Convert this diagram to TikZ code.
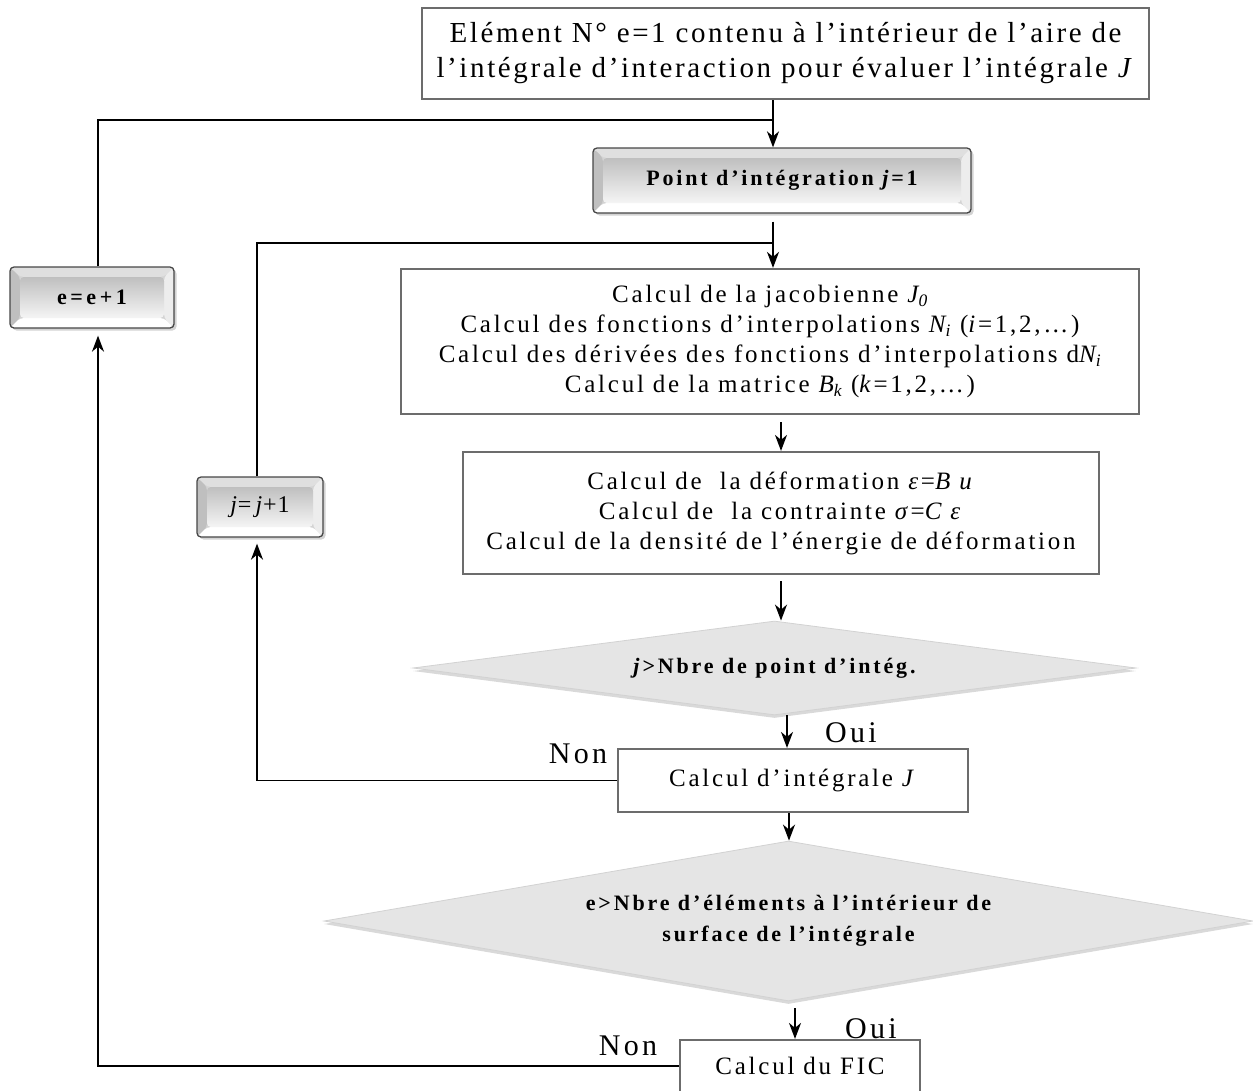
\documentclass[tikz,border=0pt]{standalone}
\usepackage{fontspec}
\setmainfont{Liberation Serif}
\usetikzlibrary{arrows.meta,shapes.geometric,shadows}

\tikzset{
  conn/.style={line width=1.9pt, black},
  arr/.style={conn, -{Stealth[length=16pt,width=12pt,inset=5pt]}},
  plainbox/.style={rectangle, draw=gray!85!black, line width=2.2pt, fill=white,
    inner sep=0pt, align=center},
  bevelbox/.style={rectangle, rounded corners=4pt, draw=gray!55!black, line width=1.3pt,
    inner sep=0pt, align=center,
    drop shadow={shadow xshift=2.5pt, shadow yshift=-2.5pt, opacity=0.35, fill=gray},
    path picture={
      \path (path picture bounding box.north west) coordinate (bvA)
            (path picture bounding box.north east) coordinate (bvB)
            (path picture bounding box.south east) coordinate (bvC)
            (path picture bounding box.south west) coordinate (bvD);
      \fill[gray!25] (bvA) -- (bvB) -- ([shift={(-10pt,-10pt)}]bvB) -- ([shift={(10pt,-10pt)}]bvA) -- cycle;
      \fill[gray!50] (bvA) -- ([shift={(10pt,-10pt)}]bvA) -- ([shift={(10pt,10pt)}]bvD) -- (bvD) -- cycle;
      \fill[gray!14] (bvB) -- ([shift={(-10pt,-10pt)}]bvB) -- ([shift={(-10pt,10pt)}]bvC) -- (bvC) -- cycle;
      \fill[white] (bvD) -- ([shift={(10pt,10pt)}]bvD) -- ([shift={(-10pt,10pt)}]bvC) -- (bvC) -- cycle;
      \shade[top color=gray!50, bottom color=gray!8]
        ([shift={(10pt,-10pt)}]bvA) rectangle ([shift={(-10pt,10pt)}]bvC);
    }},
  decision/.style={diamond, fill=gray!20, draw=gray!35, line width=0.8pt, inner sep=0pt,
    align=center,
    drop shadow={shadow xshift=0pt, shadow yshift=-3pt, opacity=0.3, fill=gray}},
  lbl/.style={font=\fontsize{30}{32}\selectfont\addfontfeature{LetterSpace=11}, inner sep=0pt},
  toptxt/.style={font=\fontsize{29}{35}\selectfont\addfontfeature{LetterSpace=9}},
  bodytxt/.style={font=\fontsize{25}{30}\selectfont\addfontfeature{LetterSpace=11}},
  boldtxt/.style={font=\fontsize{22}{31}\selectfont\bfseries\addfontfeature{LetterSpace=13}},
  widebold/.style={font=\fontsize{22}{31}\selectfont\bfseries\addfontfeature{LetterSpace=16}},
}

\begin{document}
\begin{tikzpicture}[x=1pt, y=-1pt]
\useasboundingbox (0,0) rectangle (1253,1090);

% process boxes
\node[plainbox, toptxt, minimum width=727pt, minimum height=91pt] (top) at (785.5,53.5)
  {Elément N° e=1 contenu à l’intérieur de l’aire de\\
   l’intégrale d’interaction pour évaluer l’intégrale \textit{J}};

\node[bevelbox, boldtxt, minimum width=378pt, minimum height=65pt] (point) at (782,180.5)
  {Point d’intégration \textit{j}=1};

\node[plainbox, bodytxt, minimum width=738pt, minimum height=145pt] (calc1) at (770,341.5)
  {Calcul de la jacobienne \textit{J\textsubscript{0}}\\
   Calcul des fonctions d’interpolations \textit{N\textsubscript{i}} (\textit{i}=1,2,…)\\
   Calcul des dérivées des fonctions d’interpolations d\textit{N\textsubscript{i}}\\
   Calcul de la matrice \textit{B\textsubscript{k}} (\textit{k}=1,2,…)};

\node[plainbox, bodytxt, minimum width=636pt, minimum height=122pt] (calc2) at (781,513)
  {Calcul de \ la déformation \textit{ε}=\textit{B u}\\
   Calcul de \ la contrainte \textit{σ}=\textit{C ε}\\
   Calcul de la densité de l’énergie de déformation};

\node[bevelbox, font=\fontsize{24}{30}\selectfont\addfontfeature{LetterSpace=4},
      minimum width=126pt, minimum height=60pt] (jinc) at (260,507)
  {\textit{j}=\,\textit{j}+1};

\node[bevelbox, widebold, minimum width=164pt, minimum height=61pt] (einc) at (92,297.5)
  {e=e+1};

\node[decision, boldtxt, aspect=7.7, minimum width=723pt, minimum height=94pt] (d1) at (774.5,668)
  {\textit{j}>Nbre de point d’intég.};

\node[plainbox, bodytxt, minimum width=350pt, minimum height=63pt] (calcJ) at (793,780.5)
  {Calcul d’intégrale \textit{J}};

\node[decision, boldtxt, aspect=5.8, minimum width=929pt, minimum height=160pt] (d2) at (788.5,921)
  {e>Nbre d’éléments à l’intérieur de\\surface de l’intégrale};

\node[plainbox, bodytxt, minimum width=240pt, minimum height=52pt] (fic) at (800,1066)
  {Calcul du FIC};

% branch labels
\node[lbl] (oui1) at (851,733) {Oui};
\node[lbl] (non1) at (578,754) {Non};
\node[lbl] (oui2) at (871,1029) {Oui};
\node[lbl] (non2) at (628,1046) {Non};

% reference columns for the vertical connectors
\coordinate (mx) at (773,0);
\coordinate (ex) at (98,0);
\coordinate (jx) at (257,0);
\coordinate (eloop) at (773,120);
\coordinate (jloop) at (773,243);

% main flow
\draw[arr] (top.south -| mx) -- (point.north -| mx);
\draw[arr, shorten <=8pt] (point.south -| mx) -- (calc1.north -| mx);
\draw[arr, shorten <=7pt] (calc1.south -| 781,0) -- (calc2.north -| 781,0);
\draw[arr, shorten <=6pt] (calc2.south -| 781,0) -- (d1.north -| 781,0);
\draw[arr] (d1.south -| 787,0) -- (calcJ.north -| 787,0);
\draw[arr] (calcJ.south -| 789,0) -- (d2.north -| 789,0);
\draw[arr, shorten <=7pt] (d2.south -| 795,0) -- (fic.north -| 795,0);

% integration point loop
\draw[arr, shorten >=6pt] (calcJ.west) -| (jinc.south -| jx);
\draw[conn] (jinc.north -| jx) |- (jloop);

% element loop
\draw[arr, shorten >=7pt] (fic.west) -| (einc.south -| ex);
\draw[conn] (einc.north -| ex) |- (eloop);
\end{tikzpicture}
\end{document}
